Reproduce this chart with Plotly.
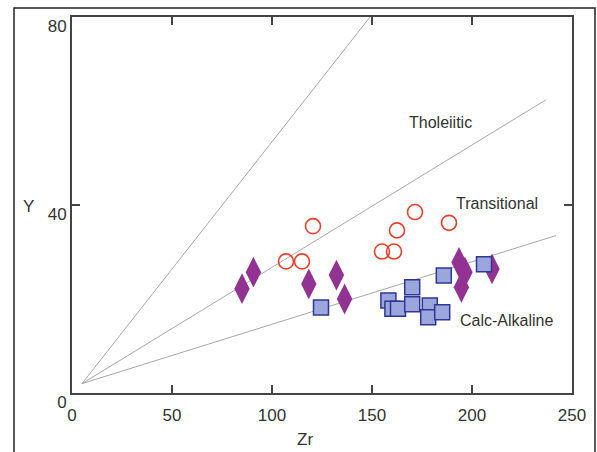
import plotly.graph_objects as go

# Data
circ_zr = [107, 115, 120.5, 155, 161, 162.5, 171.5, 188.5]
circ_y = [28.0, 28.0, 35.5, 30.1, 30.1, 34.6, 38.5, 36.2]

dia_zr = [85, 90.7, 118.4, 132.2, 136.3, 193.5, 196.5, 194.7, 210]
dia_y = [22.2, 25.7, 23.2, 25.1, 20.0, 27.8, 25.7, 22.5, 26.4]

sq_zr = [124.5, 158.2, 160.2, 163, 170.1, 170.1, 178.9, 178.1, 185.1, 185.9, 206]
sq_y = [18.2, 19.7, 17.9, 17.9, 22.5, 18.9, 18.6, 16.1, 17.2, 25.0, 27.4]

# discrimination lines (start, end)
line_zr = [[5, 149], [5, 237], [5, 242]]
line_y = [[2, 80], [2, 62.4], [2, 33.5]]

field_labels = ["Tholeiitic", "Transitional", "Calc-Alkaline"]
field_zr = [184, 212.5, 217]
field_y = [57.6, 40.3, 15.5]

x_ticks = [0, 50, 100, 150, 200, 250]
y_ticks = [0, 40, 80]

FONT = "Liberation Sans, Arial, sans-serif"
TXT = "#333333"

fig = go.Figure()
for lx, ly in zip(line_zr, line_y):
    fig.add_trace(go.Scatter(x=lx, y=ly, mode="lines",
                             line=dict(color="#a8a8a8", width=1),
                             hoverinfo="skip", showlegend=False))

fig.add_trace(go.Scatter(x=circ_zr, y=circ_y, mode="markers", showlegend=False,
                         marker=dict(symbol="circle-open", size=15,
                                     color="#e8402e", line=dict(width=1.6))))
fig.add_trace(go.Scatter(x=dia_zr, y=dia_y, mode="markers", showlegend=False,
                         marker=dict(symbol="diamond-tall", size=22,
                                     color="#923292", line=dict(width=0))))
fig.add_trace(go.Scatter(x=sq_zr, y=sq_y, mode="markers", showlegend=False,
                         marker=dict(symbol="square", size=15,
                                     color="#9aa6dc",
                                     line=dict(color="#2f3794", width=1.5))))

for t, x, y in zip(field_labels, field_zr, field_y):
    fig.add_annotation(x=x, y=y, text=t, showarrow=False,
                       font=dict(family=FONT, size=16, color=TXT))

fig.add_annotation(xref="paper", yref="paper", x=(28 - 72) / 500, y=(393 - 207) / 376,
                   xanchor="center", yanchor="middle",
                   text="Y", showarrow=False, font=dict(family=FONT, size=17, color=TXT))
fig.add_annotation(xref="paper", yref="paper", x=(305 - 72) / 500, y=(393 - 439) / 376,
                   xanchor="center", yanchor="middle",
                   text="Zr", showarrow=False, font=dict(family=FONT, size=17, color=TXT))

# outer frame
fig.add_shape(type="rect", xref="paper", yref="paper",
              x0=(14 - 72) / 500, x1=(595 - 72) / 500,
              y0=(393 - 470) / 376, y1=(393 - 8) / 376,
              line=dict(color="#222222", width=1.5))

axis_common = dict(showgrid=False, zeroline=False, showline=True, mirror="ticks",
                   linecolor="#444444", linewidth=2, ticks="inside", ticklen=8,
                   tickwidth=1.5, tickcolor="#444444", automargin=False,
                   tickfont=dict(family=FONT, size=17, color=TXT))
fig.update_xaxes(range=[0, 250], tickvals=x_ticks, ticklabelstandoff=6, **axis_common)
fig.update_yaxes(range=[0, 80], tickvals=y_ticks, ticklabelshift=9, **axis_common)

fig.update_layout(width=597, height=452, plot_bgcolor="white", paper_bgcolor="white",
                  margin=dict(l=72, r=25, t=17, b=59, autoexpand=False), showlegend=False)

fig.write_html("out.html", config={"displayModeBar": False},
               post_script="document.body.style.margin='0';document.body.style.overflow='hidden';")
